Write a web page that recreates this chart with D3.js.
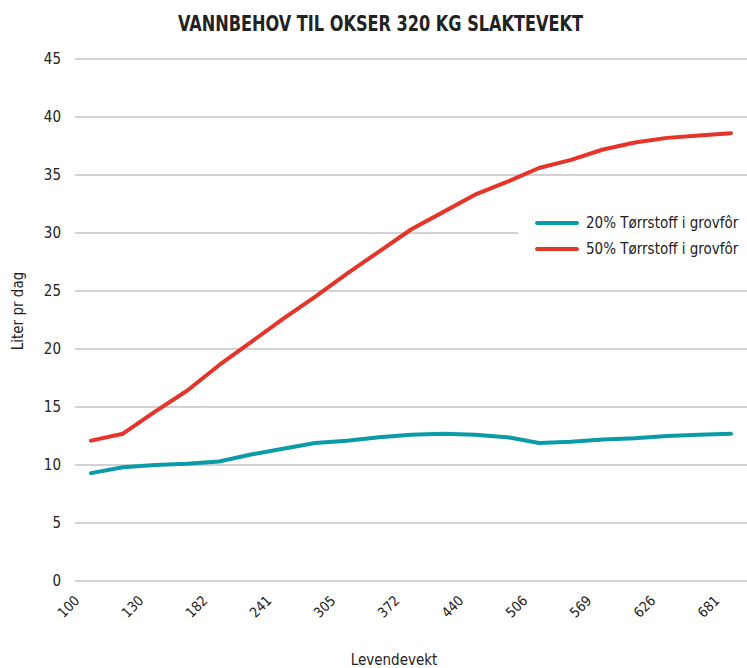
<!DOCTYPE html>
<html lang="no">
<head>
  <meta charset="UTF-8">
  <title>Vannbehov til okser 320 kg slaktevekt</title>
  <script src="https://d3js.org/d3.v7.min.js"></script>
  <style>
    body {
      margin: 0;
      background: #fff;
      font-family: "Liberation Sans Narrow", "DejaVu Sans Condensed", Arial, sans-serif;
    }
    svg text { fill: #222; }
  </style>
</head>
<body>
<svg width="747" height="668"></svg>

<script>
  // Data (21 points, every other one labelled)
  const xLabels = ["100", "130", "182", "241", "305", "372", "440", "506", "569", "626", "681"];
  const seriesNames = ["20% Tørrstoff i grovfôr", "50% Tørrstoff i grovfôr"];
  const dm20 = [9.3, 9.8, 10.0, 10.1, 10.3, 10.9, 11.4, 11.9, 12.1, 12.4, 12.6,
                12.7, 12.6, 12.4, 11.9, 12.0, 12.2, 12.3, 12.5, 12.6, 12.7];
  const dm50 = [12.1, 12.7, 14.6, 16.4, 18.6, 20.6, 22.6, 24.5, 26.5, 28.4, 30.3,
                31.8, 33.3, 34.4, 35.6, 36.3, 37.2, 37.8, 38.2, 38.4, 38.6];
  const yTicks = [0, 5, 10, 15, 20, 25, 30, 35, 40, 45];
  const colors = ["#0a9aa8", "#e5342a"];

  const svg = d3.select("svg");
  const margin = {left: 75, right: 0, top: 59, bottom: 87};
  const width = 747, height = 668;

  const x = d3.scalePoint()
    .domain(d3.range(dm20.length))
    .range([91, 731]);

  const y = d3.scaleLinear()
    .domain([0, 45])
    .range([height - margin.bottom, margin.top]);

  // Title, squeezed to the width of the condensed original
  svg.append("text")
    .attr("x", 178)
    .attr("y", 31)
    .attr("textLength", 405)
    .attr("lengthAdjust", "spacingAndGlyphs")
    .style("font-size", "21px")
    .style("font-weight", "bold")
    .text("VANNBEHOV TIL OKSER 320 KG SLAKTEVEKT");

  // Gridlines
  svg.append("g")
    .selectAll("line")
    .data(yTicks)
    .join("line")
    .attr("x1", margin.left)
    .attr("x2", width)
    .attr("y1", d => y(d))
    .attr("y2", d => y(d))
    .attr("stroke", "#a6a6a6")
    .attr("stroke-width", 1.2);

  // Y axis labels
  svg.append("g")
    .selectAll("text")
    .data(yTicks)
    .join("text")
    .attr("x", 61)
    .attr("y", d => y(d))
    .attr("dy", "0.35em")
    .attr("text-anchor", "end")
    .style("font-size", "15px")
    .text(d => d);

  // X axis labels, every other category
  svg.append("g")
    .selectAll("text")
    .data(xLabels)
    .join("text")
    .attr("transform", (d, i) => `translate(${x(i * 2) - 14},${598}) rotate(-45)`)
    .attr("text-anchor", "end")
    .attr("dy", "0.35em")
    .style("font-size", "14px")
    .text(d => d);

  // Axis titles
  svg.append("text")
    .attr("x", 394)
    .attr("y", 665)
    .attr("text-anchor", "middle")
    .style("font-size", "15px")
    .text("Levendevekt");

  svg.append("text")
    .attr("transform", "translate(23,311) rotate(-90)")
    .attr("text-anchor", "middle")
    .style("font-size", "15px")
    .text("Liter pr dag");

  // Lines
  const line = d3.line()
    .x((d, i) => x(i))
    .y(d => y(d));

  [dm20, dm50].forEach((s, k) => {
    svg.append("path")
      .datum(s)
      .attr("fill", "none")
      .attr("stroke", colors[k])
      .attr("stroke-width", 4)
      .attr("stroke-linecap", "round")
      .attr("stroke-linejoin", "round")
      .attr("d", line);
  });

  // Legend (white box hides the gridline behind it)
  const legend = svg.append("g").attr("transform", "translate(518,205)");
  legend.append("rect")
    .attr("width", 229)
    .attr("height", 58)
    .attr("fill", "#fff");

  seriesNames.forEach((name, k) => {
    const row = legend.append("g").attr("transform", `translate(0,${18 + k * 26})`);
    row.append("line")
      .attr("x1", 19).attr("x2", 59)
      .attr("stroke", colors[k])
      .attr("stroke-width", 4)
      .attr("stroke-linecap", "round");
    row.append("text")
      .attr("x", 68)
      .attr("dy", "0.35em")
      .style("font-size", "15px")
      .text(name);
  });
</script>
</body>
</html>
